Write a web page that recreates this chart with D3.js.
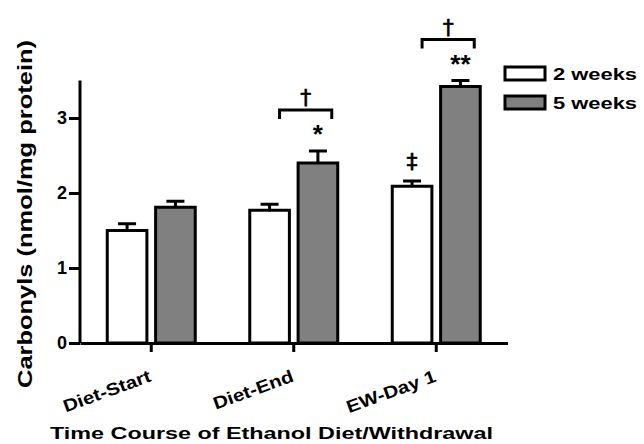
<!DOCTYPE html>
<html><head><meta charset="utf-8">
<script src="https://cdn.jsdelivr.net/npm/d3@7"></script>
<style>body{margin:0;background:#fff}svg{display:block}text{font-family:"Liberation Sans",Arial,sans-serif;font-weight:bold;fill:#000}</style>
</head><body><svg id="c" width="644" height="444"></svg>
<script>
const categories = ["Diet-Start", "Diet-End", "EW-Day 1"];
const seriesNames = ["2 weeks", "5 weeks"];
const values2wk = [1.50, 1.77, 2.09];
const values5wk = [1.81, 2.40, 3.42];
const errors2wk = [0.09, 0.08, 0.07];
const errors5wk = [0.08, 0.16, 0.08];
const yTicks = [0, 1, 2, 3];
const markers5wk = ["", "*", "**"];
const markers2wk = ["", "", "‡"];
const bracketCats = ["Diet-End", "EW-Day 1"];

const svg = d3.select("#c");
const x = d3.scaleBand().domain(categories).range([80, 507.5]).padding(0);
const sub = d3.scaleBand().domain(seriesNames).range([0, 88]).paddingInner(0.18);
const y = d3.scaleLinear().domain([0, 3.5]).range([343, 80.5]);
const colors = {"2 weeks": "#ffffff", "5 weeks": "#808080"};

function stretch(sel, k) {
  sel.each(function () {
    const w = this.getComputedTextLength();
    d3.select(this).attr("textLength", w * k).attr("lengthAdjust", "spacingAndGlyphs");
  });
}

const data = [];
categories.forEach((c, i) => {
  data.push({cat: c, s: "2 weeks", v: values2wk[i], e: errors2wk[i], m: markers2wk[i]});
  data.push({cat: c, s: "5 weeks", v: values5wk[i], e: errors5wk[i], m: markers5wk[i]});
});
const off = (x.bandwidth() - 88) / 2;
const bx = d => x(d.cat) + off + sub(d.s);

// error bars
const eg = svg.append("g").attr("stroke", "#000").attr("stroke-width", 3);
data.forEach(d => {
  const cx = bx(d) + sub.bandwidth() / 2;
  eg.append("line").attr("x1", cx).attr("x2", cx).attr("y1", y(d.v)).attr("y2", y(d.v + d.e));
  eg.append("line").attr("x1", cx - 9).attr("x2", cx + 9).attr("y1", y(d.v + d.e)).attr("y2", y(d.v + d.e));
});

// bars
svg.append("g").selectAll("rect").data(data).join("rect")
  .attr("x", bx).attr("width", sub.bandwidth())
  .attr("y", d => y(d.v)).attr("height", d => y(0) - y(d.v))
  .attr("fill", d => colors[d.s]).attr("stroke", "#000").attr("stroke-width", 3);

// markers
data.forEach(d => {
  if (!d.m) return;
  const cx = bx(d) + sub.bandwidth() / 2;
  if (d.m === "‡") {
    svg.append("text").attr("x", cx).attr("y", y(d.v + d.e) - 12).attr("text-anchor", "middle")
      .attr("font-size", 22).style("font-weight", "normal").style("font-family", "'DejaVu Sans',sans-serif")
      .attr("stroke", "#000").attr("stroke-width", 0.6).text(d.m);
  } else {
    svg.append("text").attr("x", cx).attr("y", y(d.v + d.e) - 26).attr("dy", "0.7em")
      .attr("text-anchor", "middle").attr("font-size", 26).text(d.m);
  }
});

// brackets
bracketCats.forEach(c => {
  const d5 = data.find(d => d.cat === c && d.s === "5 weeks");
  const left = x(c) + off + sub("2 weeks") + sub.bandwidth() / 2 + 10;
  const right = bx(d5) + sub.bandwidth() - 6;
  const top = y(d5.v + d5.e) - 41;
  svg.append("path").attr("d", `M${left},${top + 9}V${top}H${right}V${top + 9}`)
    .attr("fill", "none").attr("stroke", "#000").attr("stroke-width", 3);
  svg.append("text").attr("x", (left + right) / 2).attr("y", top - 5).attr("text-anchor", "middle")
    .attr("font-size", 22).style("font-weight", "normal").style("font-family", "'DejaVu Sans',sans-serif")
    .attr("stroke", "#000").attr("stroke-width", 0.6).text("†");
});

// y axis
const ya = svg.append("g").attr("transform", "translate(80,0)")
  .call(d3.axisLeft(y).tickValues(yTicks).tickFormat(d3.format("d")).tickSize(11).tickPadding(2));
ya.select(".domain").attr("d", `M0,${y(3.5)}V${y(0)}`).attr("stroke-width", 3);
ya.selectAll(".tick line").attr("stroke-width", 3);
ya.selectAll(".tick text").attr("font-size", 18).style("font-family", "'Liberation Sans',Arial,sans-serif")
  .style("font-weight", "bold").attr("fill", "#000");

// x axis
const xa = svg.append("g").attr("transform", `translate(0,${y(0)})`)
  .call(d3.axisBottom(x).tickSize(9).tickSizeOuter(0).tickPadding(0));
xa.select(".domain").attr("stroke-width", 3);
xa.selectAll(".tick line").attr("stroke-width", 3).attr("y1", 2);
const xt = xa.selectAll(".tick text").attr("font-size", 17.5).style("font-family", "'Liberation Sans',Arial,sans-serif")
  .style("font-weight", "bold").attr("fill", "#000").attr("text-anchor", "end")
  .attr("y", 0).attr("dy", 0).attr("transform", "translate(1,38) rotate(-20)");
stretch(xt, 1.17);

// axis titles
svg.append("text").attr("x", 271.5).attr("y", 439).attr("text-anchor", "middle").attr("font-size", 17)
  .attr("textLength", 443).attr("lengthAdjust", "spacingAndGlyphs")
  .text("Time Course of Ethanol Diet/Withdrawal");
svg.append("text").attr("transform", "translate(32,214) rotate(-90)").attr("text-anchor", "middle")
  .attr("font-size", 20.5).attr("textLength", 348).attr("lengthAdjust", "spacingAndGlyphs")
  .text("Carbonyls (nmol/mg protein)");

// legend
const lg = svg.append("g");
seriesNames.forEach((s, i) => {
  lg.append("rect").attr("x", 505).attr("y", 67 + i * 29).attr("width", 40).attr("height", 13)
    .attr("fill", colors[s]).attr("stroke", "#000").attr("stroke-width", 3);
  lg.append("text").attr("x", 553).attr("y", 80 + i * 29).attr("font-size", 17)
    .attr("textLength", 84).attr("lengthAdjust", "spacingAndGlyphs").text(s);
});
</script></body></html>
